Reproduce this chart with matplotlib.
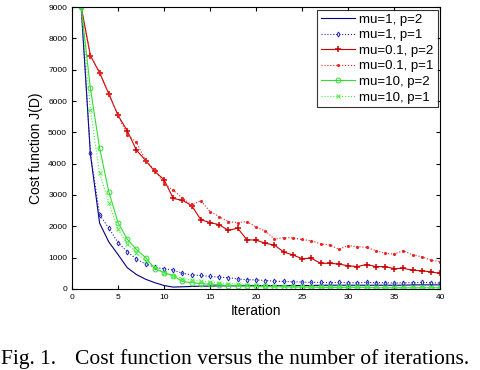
import numpy as np
import matplotlib
matplotlib.use("Agg")
import matplotlib.pyplot as plt

# iteration index and the six cost curves
iterations = np.arange(1, 41)

cost_mu1_p2 = [9000, 4300, 2100, 1500, 1100, 680, 460, 310, 200, 110,
               60, 70, 80, 90, 90, 100, 100, 100, 110, 110,
               110, 110, 100, 110, 110, 110, 120, 120, 120, 120,
               120, 120, 120, 120, 120, 120, 130, 130, 130, 130]
cost_mu1_p1 = [9000, 4330, 2370, 1940, 1480, 1190, 950, 800, 690, 650,
               600, 500, 450, 430, 400, 380, 360, 320, 300, 290,
               270, 250, 240, 230, 220, 210, 210, 200, 210, 200,
               200, 210, 200, 200, 190, 200, 200, 210, 200, 190]
cost_mu01_p2 = [9000, 7450, 6900, 6230, 5540, 5050, 4430, 4100, 3750, 3490,
                2890, 2830, 2660, 2210, 2120, 2050, 1870, 1940, 1570, 1560,
                1460, 1400, 1180, 1085, 970, 980, 820, 820, 795, 740,
                715, 780, 715, 715, 650, 660, 595, 585, 540, 500]
cost_mu01_p1 = [9000, 7450, 6900, 6230, 5540, 4930, 4680, 4100, 3800, 3360,
                3150, 2900, 2680, 2820, 2470, 2310, 2150, 2120, 2150, 1980,
                1850, 1590, 1640, 1630, 1580, 1540, 1440, 1405, 1270, 1385,
                1350, 1330, 1225, 1140, 1110, 1225, 1085, 1030, 925, 870]
cost_mu10_p2 = [9000, 6400, 4500, 3100, 2120, 1590, 1260, 1000, 650, 520,
                420, 240, 200, 170, 150, 130, 110, 100, 90, 80,
                80, 70, 70, 60, 60, 60, 50, 50, 50, 50,
                50, 50, 40, 40, 40, 40, 40, 40, 40, 40]
cost_mu10_p1 = [9000, 5700, 3700, 2750, 1900, 1450, 1150, 900, 700, 520,
                420, 330, 280, 250, 220, 190, 170, 150, 130, 120,
                110, 100, 90, 80, 80, 70, 70, 60, 60, 60,
                60, 50, 50, 50, 50, 50, 50, 50, 50, 50]

labels = ["mu=1, p=2", "mu=1, p=1", "mu=0.1, p=2",
          "mu=0.1, p=1", "mu=10, p=2", "mu=10, p=1"]
x_ticks = [0, 5, 10, 15, 20, 25, 30, 35, 40]
y_ticks = [0, 1000, 2000, 3000, 4000, 5000, 6000, 7000, 8000, 9000]

plt.rcParams["font.family"] = ["Liberation Sans", "DejaVu Sans"]

fig = plt.figure(figsize=(4.8, 3.7), dpi=100)
ax = fig.add_axes([0.15, 0.219, 0.767, 0.762])

ax.plot(iterations, cost_mu1_p2, color="#000080", linewidth=0.8, label=labels[0])
ax.plot(iterations, cost_mu1_p1, color="#2222bb", linestyle=":", linewidth=0.8,
        marker="d", markersize=2.5, markerfacecolor="none", markeredgewidth=0.7,
        label=labels[1])
ax.plot(iterations, cost_mu01_p2, color="#cc0000", linewidth=0.8,
        marker="+", markersize=4.5, markeredgewidth=1.1, label=labels[2])
ax.plot(iterations, cost_mu01_p1, color="#ee2222", linestyle=":", linewidth=0.8,
        marker=".", markersize=2.5, label=labels[3])
ax.plot(iterations, cost_mu10_p2, color="#33dd33", linewidth=0.8,
        marker="o", markersize=3.5, markerfacecolor="none", markeredgewidth=0.7,
        label=labels[4])
ax.plot(iterations, cost_mu10_p1, color="#44ee44", linestyle=":", linewidth=0.8,
        marker="x", markersize=2.5, markeredgewidth=0.7, label=labels[5])

ax.set_xlim(0, 40)
ax.set_ylim(0, 9000)
ax.set_xticks(x_ticks)
ax.set_yticks(y_ticks)
ax.tick_params(direction="in", top=True, right=True, labelsize=6, length=3)
ax.set_xlabel("Iteration", fontsize=10, labelpad=2)
ax.set_ylabel("Cost function J(D)", fontsize=10, labelpad=4)

leg = ax.legend(loc="upper right", fontsize=9.5, frameon=True, fancybox=False,
                borderaxespad=0.2, handlelength=2.6, labelspacing=0.25,
                borderpad=0.3, handletextpad=0.3)
leg.get_frame().set_edgecolor("black")
leg.get_frame().set_linewidth(0.8)

serif = ["Liberation Serif", "DejaVu Serif"]
fig.text(0.002, 0.016, "Fig. 1.", fontsize=15.5, family=serif, ha="left", va="baseline")
fig.text(0.156, 0.016, "Cost function versus the number of iterations.",
         fontsize=15.5, family=serif, ha="left", va="baseline")

fig.savefig("out.png", dpi=100)
plt.close(fig)
